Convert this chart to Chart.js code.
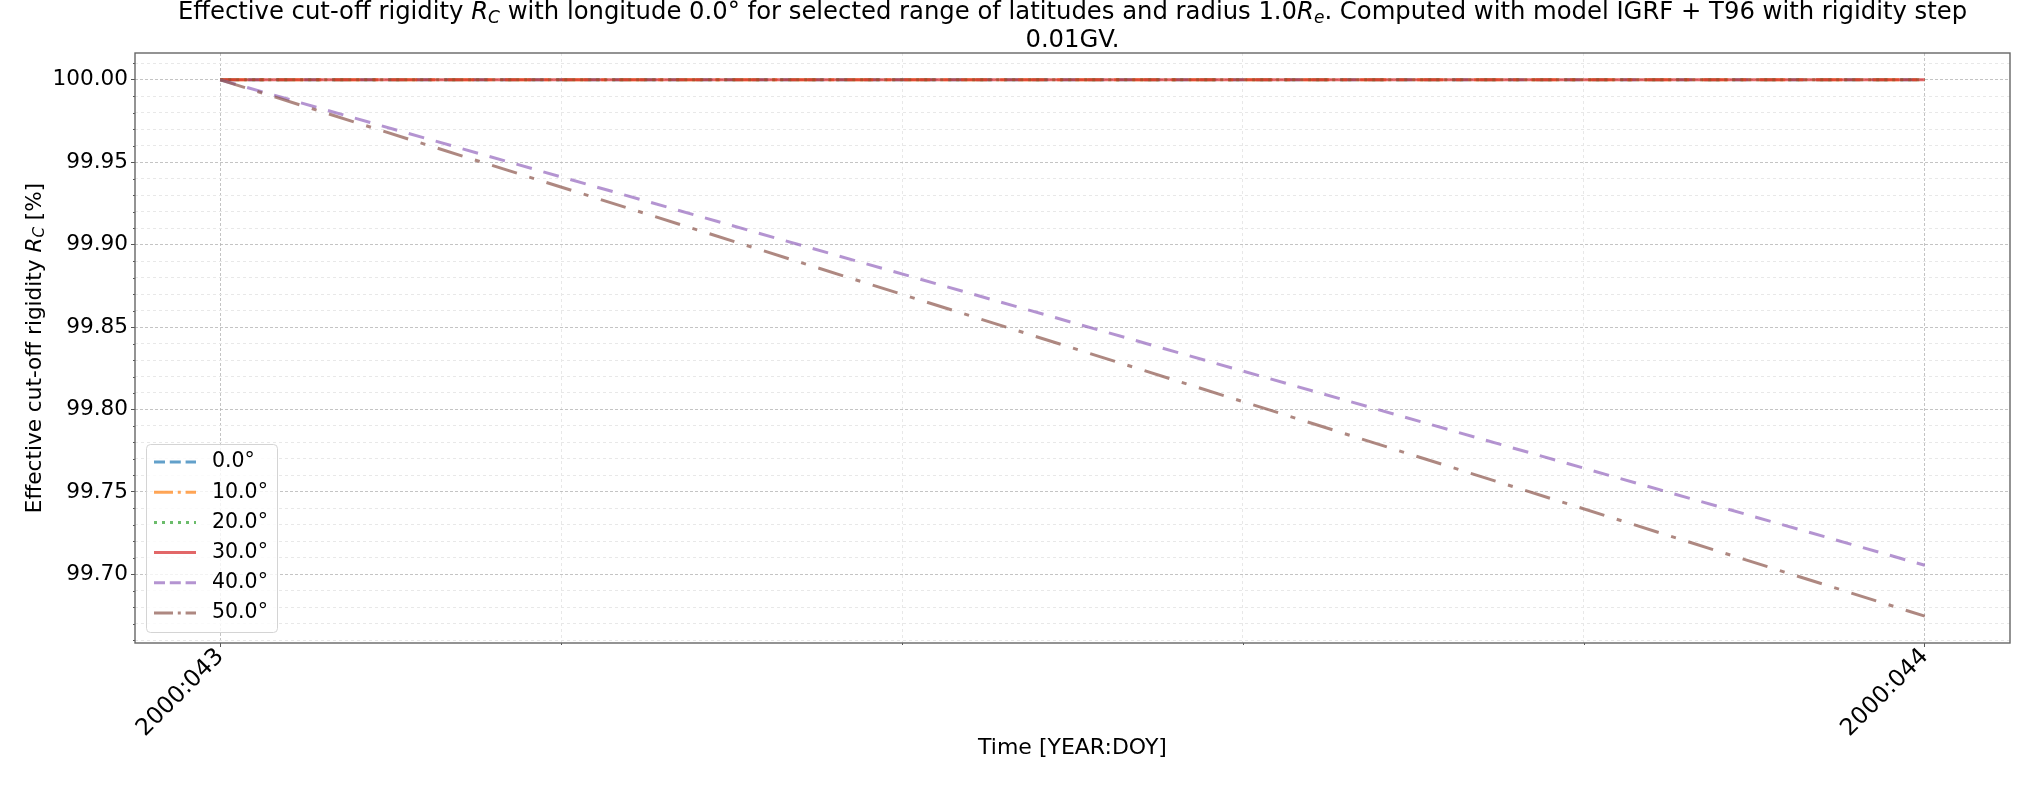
<!DOCTYPE html>
<html><head><meta charset="utf-8">
<script src="https://cdn.jsdelivr.net/npm/chart.js@4/dist/chart.umd.min.js"></script>
<style>html,body{margin:0;padding:0;background:#fff}canvas{display:block}</style>
</head><body>
<canvas id="c" width="2043" height="785"></canvas>
<script>
// ---- data ----
const times = [43, 44];                       // day of year 2000
const latitudes = ['0.0°', '10.0°', '20.0°', '30.0°', '40.0°', '50.0°'];
const lat0  = [100.0, 100.0];
const lat10 = [100.0, 100.0];
const lat20 = [100.0, 100.0];
const lat30 = [100.0, 100.0];
const lat40 = [100.0, 99.7055];
const lat50 = [100.0, 99.6746];
const xTickValues = [43, 44];
const xTickLabels = ['2000:043', '2000:044'];
const yMajorTicks = [99.70, 99.75, 99.80, 99.85, 99.90, 99.95, 100.00];

// ---- styles ----
const FONT = "'DejaVu Sans'";
const series = [lat0, lat10, lat20, lat30, lat40, lat50];
const colors = ['rgba(31,119,180,0.7)', 'rgba(255,127,14,0.7)', 'rgba(44,160,44,0.7)',
                'rgba(214,39,40,0.7)', 'rgba(148,103,189,0.7)', 'rgba(140,86,75,0.7)'];
const plotDash = [[16, 12], [26, 13, 5, 13], [3, 5], [], [16, 12], [26, 13, 5, 13]];
const legendDash = [[11, 4.8], [19, 4.8, 3, 4.8], [3, 5], [], [11, 4.8], [19, 4.8, 3, 4.8]];

const allY = series.flat();
const yLo = Math.min(...allY), yHi = Math.max(...allY), ySpan = yHi - yLo;
const yMin = yLo - 0.05 * ySpan, yMax = yHi + 0.05 * ySpan;
const xMin = times[0] - 0.05 * (times[1] - times[0]), xMax = times[1] + 0.05 * (times[1] - times[0]);

const xMinorTicks = [43, 43.2, 43.4, 43.6, 43.8, 44];
const yAllTicks = [];
for (let k = Math.ceil(yMin * 100 - 1e-9); k <= Math.floor(yMax * 100 + 1e-9); k++) yAllTicks.push(k / 100);

const isXMajor = v => xTickValues.some(t => Math.abs(t - v) < 1e-9);
const isYMajor = v => yMajorTicks.some(t => Math.abs(t - v) < 1e-9);

const datasets = series.map((s, i) => ({
  label: latitudes[i],
  data: times.map((t, j) => ({x: t, y: s[j]})),
  borderColor: colors[i],
  backgroundColor: colors[i],
  borderWidth: 3,
  borderDash: plotDash[i],
  pointRadius: 0,
  tension: 0,
  fill: false,
  order: series.length - i
}));

function fontFor(seg, size) {
  const sz = seg.sub ? size * 0.7 : size;
  return (seg.it ? 'italic ' : '') + sz + 'px ' + FONT;
}
function drawRich(ctx, segs, cx, cy, size) {
  let total = 0;
  segs.forEach(s => { ctx.font = fontFor(s, size); total += ctx.measureText(s.t).width; });
  let x = cx - total / 2;
  ctx.textAlign = 'left';
  ctx.textBaseline = 'middle';
  segs.forEach(s => {
    ctx.font = fontFor(s, size);
    ctx.fillText(s.t, x, cy + (s.sub ? 0.24 * size : 0));
    x += ctx.measureText(s.t).width;
  });
}

const titleLine1 = [
  {t: 'Effective cut-off rigidity '}, {t: 'R', it: 1}, {t: 'C', it: 1, sub: 1},
  {t: ' with longitude 0.0° for selected range of latitudes and radius 1.0'},
  {t: 'R', it: 1}, {t: 'e', it: 1, sub: 1},
  {t: '. Computed with model IGRF + T96 with rigidity step'}
];
const titleLine2 = [{t: '0.01GV.'}];
const yLabel = [{t: 'Effective cut-off rigidity '}, {t: 'R', it: 1}, {t: 'C', it: 1, sub: 1}, {t: ' [%]'}];
const xLabel = [{t: 'Time [YEAR:DOY]'}];

const decorPlugin = {
  id: 'decor',
  afterDatasetsDraw(chart) {
    const ctx = chart.ctx, a = chart.chartArea;
    const xs = chart.scales.x, ys = chart.scales.y;
    ctx.save();
    // minor ticks
    ctx.strokeStyle = '#555'; ctx.lineWidth = 1;
    yAllTicks.filter(v => !isYMajor(v)).forEach(v => {
      const y = Math.round(ys.getPixelForValue(v)) + 0.5;
      ctx.beginPath(); ctx.moveTo(a.left - 2, y); ctx.lineTo(a.left, y); ctx.stroke();
    });
    xMinorTicks.filter(v => !isXMajor(v)).forEach(v => {
      const x = Math.round(xs.getPixelForValue(v)) + 0.5;
      ctx.beginPath(); ctx.moveTo(x, a.bottom); ctx.lineTo(x, a.bottom + 2); ctx.stroke();
    });
    // spines
    ctx.strokeStyle = '#666'; ctx.lineWidth = 1.4;
    ctx.strokeRect(a.left, a.top, a.right - a.left, a.bottom - a.top);
    // legend
    const lx = 146, ly = 444, lw = 131, lh = 188;
    ctx.beginPath();
    ctx.roundRect(lx + 0.5, ly + 0.5, lw, lh, 4);
    ctx.fillStyle = 'rgba(255,255,255,0.8)'; ctx.fill();
    ctx.strokeStyle = '#d4d4d4'; ctx.lineWidth = 1; ctx.stroke();
    chart.data.datasets.forEach((d, i) => {
      const y = 462 + i * 30.2;
      ctx.save();
      ctx.strokeStyle = d.borderColor; ctx.lineWidth = 3;
      ctx.setLineDash(legendDash[i]);
      ctx.beginPath(); ctx.moveTo(154, y); ctx.lineTo(196, y); ctx.stroke();
      ctx.restore();
      ctx.fillStyle = '#000'; ctx.font = '20.5px ' + FONT;
      ctx.textAlign = 'left'; ctx.textBaseline = 'middle';
      ctx.fillText(d.label, 212, y);
    });
    ctx.restore();
  },
  afterDraw(chart) {
    const ctx = chart.ctx, a = chart.chartArea;
    const cx = (a.left + a.right) / 2;
    ctx.save();
    ctx.fillStyle = '#000';
    drawRich(ctx, titleLine1, cx, 13, 24.3);
    drawRich(ctx, titleLine2, cx, 41, 24.3);
    drawRich(ctx, xLabel, cx, 748, 22);
    ctx.translate(35, (a.top + a.bottom) / 2);
    ctx.rotate(-Math.PI / 2);
    drawRich(ctx, yLabel, 0, 0, 21.6);
    ctx.restore();
  }
};

new Chart(document.getElementById('c'), {
  type: 'line',
  data: {datasets},
  plugins: [decorPlugin],
  options: {
    responsive: false,
    devicePixelRatio: 1,
    animation: false,
    events: [],
    layout: {padding: {left: 0, top: 53, right: 33, bottom: 0}},
    plugins: {legend: {display: false}, title: {display: false}, tooltip: {enabled: false}},
    scales: {
      x: {
        type: 'linear', min: xMin, max: xMax,
        afterBuildTicks: s => { s.ticks = xMinorTicks.map(v => ({value: v})); },
        afterFit: s => { s.height = 142; },
        ticks: {
          autoSkip: false, minRotation: 45, maxRotation: 45, padding: -4,
          color: '#000', font: {family: FONT, size: 23.5},
          callback: v => { const i = xTickValues.findIndex(t => Math.abs(t - v) < 1e-9); return i >= 0 ? xTickLabels[i] : ''; }
        },
        grid: {
          color: c => isXMajor(c.tick.value) ? 'rgba(176,176,176,0.75)' : '#e8e8e8',
          lineWidth: 1, drawTicks: true, tickLength: 4,
          tickColor: c => isXMajor(c.tick.value) ? '#555' : 'rgba(0,0,0,0)'
        },
        border: {display: false, dash: c => isXMajor(c.tick.value) ? [3, 2] : [3, 3]}
      },
      y: {
        type: 'linear', min: yMin, max: yMax,
        afterBuildTicks: s => { s.ticks = yAllTicks.map(v => ({value: v})); },
        afterFit: s => { s.width = 135; },
        ticks: {
          autoSkip: false, padding: 3, color: '#000', font: {family: FONT, size: 21.6},
          callback: v => isYMajor(v) ? v.toFixed(2) : ''
        },
        grid: {
          color: c => isYMajor(c.tick.value) ? 'rgba(176,176,176,0.75)' : '#e8e8e8',
          lineWidth: 1, drawTicks: true, tickLength: 4,
          tickColor: c => isYMajor(c.tick.value) ? '#555' : 'rgba(0,0,0,0)'
        },
        border: {display: false, dash: c => isYMajor(c.tick.value) ? [3, 2] : [3, 3]}
      }
    }
  }
});
</script>
</body></html>
